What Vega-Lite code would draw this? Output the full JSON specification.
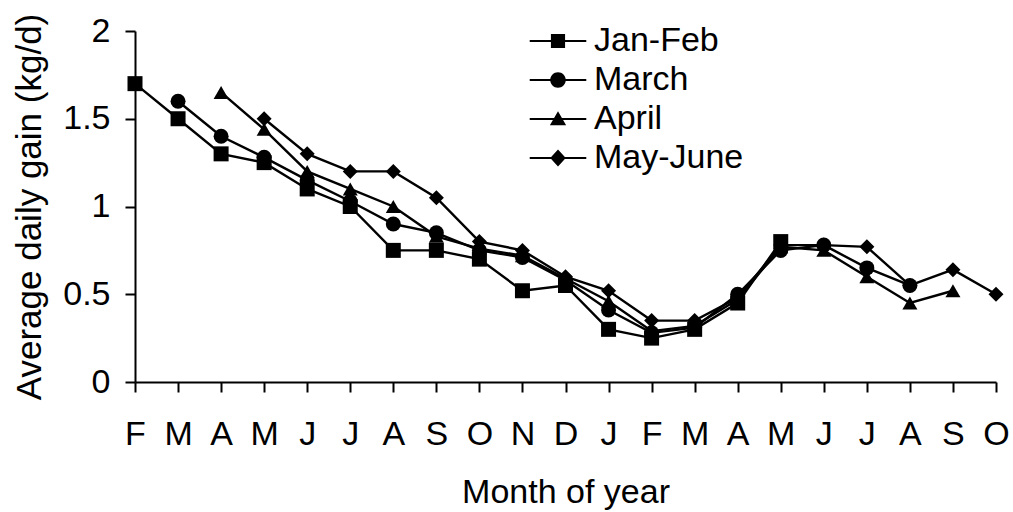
{
  "$schema": "https://vega.github.io/schema/vega-lite/v6.json",
  "autosize": "none",
  "width": 861,
  "height": 351,
  "padding": {"left": 135, "top": 31, "right": 17, "bottom": 130},
  "background": "white",
  "config": {
    "font": "Liberation Sans",
    "view": {"stroke": null},
    "axis": {"grid": false, "domainColor": "black", "domainWidth": 2, "tickColor": "black", "tickWidth": 2, "tickSize": 10, "labelColor": "black", "titleColor": "black", "labelFont": "Liberation Sans", "titleFont": "Liberation Sans", "labelFontSize": 34, "titleFontSize": 34, "titleFontWeight": "normal"}
  },
  "data": {"values": [
    {"series": "Jan-Feb", "idx": 0, "gain": 1.70},
    {"series": "Jan-Feb", "idx": 1, "gain": 1.50},
    {"series": "Jan-Feb", "idx": 2, "gain": 1.30},
    {"series": "Jan-Feb", "idx": 3, "gain": 1.25},
    {"series": "Jan-Feb", "idx": 4, "gain": 1.10},
    {"series": "Jan-Feb", "idx": 5, "gain": 1.00},
    {"series": "Jan-Feb", "idx": 6, "gain": 0.75},
    {"series": "Jan-Feb", "idx": 7, "gain": 0.75},
    {"series": "Jan-Feb", "idx": 8, "gain": 0.70},
    {"series": "Jan-Feb", "idx": 9, "gain": 0.52},
    {"series": "Jan-Feb", "idx": 10, "gain": 0.55},
    {"series": "Jan-Feb", "idx": 11, "gain": 0.30},
    {"series": "Jan-Feb", "idx": 12, "gain": 0.25},
    {"series": "Jan-Feb", "idx": 13, "gain": 0.30},
    {"series": "Jan-Feb", "idx": 14, "gain": 0.45},
    {"series": "Jan-Feb", "idx": 15, "gain": 0.80},
    {"series": "March", "idx": 1, "gain": 1.60},
    {"series": "March", "idx": 2, "gain": 1.40},
    {"series": "March", "idx": 3, "gain": 1.28},
    {"series": "March", "idx": 4, "gain": 1.15},
    {"series": "March", "idx": 5, "gain": 1.03},
    {"series": "March", "idx": 6, "gain": 0.90},
    {"series": "March", "idx": 7, "gain": 0.85},
    {"series": "March", "idx": 8, "gain": 0.75},
    {"series": "March", "idx": 9, "gain": 0.71},
    {"series": "March", "idx": 10, "gain": 0.58},
    {"series": "March", "idx": 11, "gain": 0.41},
    {"series": "March", "idx": 12, "gain": 0.28},
    {"series": "March", "idx": 13, "gain": 0.31},
    {"series": "March", "idx": 14, "gain": 0.50},
    {"series": "March", "idx": 15, "gain": 0.75},
    {"series": "March", "idx": 16, "gain": 0.78},
    {"series": "March", "idx": 17, "gain": 0.65},
    {"series": "March", "idx": 18, "gain": 0.55},
    {"series": "April", "idx": 2, "gain": 1.65},
    {"series": "April", "idx": 3, "gain": 1.44},
    {"series": "April", "idx": 4, "gain": 1.20},
    {"series": "April", "idx": 5, "gain": 1.10},
    {"series": "April", "idx": 6, "gain": 1.00},
    {"series": "April", "idx": 7, "gain": 0.83},
    {"series": "April", "idx": 8, "gain": 0.76},
    {"series": "April", "idx": 9, "gain": 0.72},
    {"series": "April", "idx": 10, "gain": 0.59},
    {"series": "April", "idx": 11, "gain": 0.46},
    {"series": "April", "idx": 12, "gain": 0.29},
    {"series": "April", "idx": 13, "gain": 0.32},
    {"series": "April", "idx": 14, "gain": 0.47},
    {"series": "April", "idx": 15, "gain": 0.77},
    {"series": "April", "idx": 16, "gain": 0.75},
    {"series": "April", "idx": 17, "gain": 0.60},
    {"series": "April", "idx": 18, "gain": 0.45},
    {"series": "April", "idx": 19, "gain": 0.52},
    {"series": "May-June", "idx": 3, "gain": 1.50},
    {"series": "May-June", "idx": 4, "gain": 1.30},
    {"series": "May-June", "idx": 5, "gain": 1.20},
    {"series": "May-June", "idx": 6, "gain": 1.20},
    {"series": "May-June", "idx": 7, "gain": 1.05},
    {"series": "May-June", "idx": 8, "gain": 0.80},
    {"series": "May-June", "idx": 9, "gain": 0.75},
    {"series": "May-June", "idx": 10, "gain": 0.60},
    {"series": "May-June", "idx": 11, "gain": 0.52},
    {"series": "May-June", "idx": 12, "gain": 0.35},
    {"series": "May-June", "idx": 13, "gain": 0.35},
    {"series": "May-June", "idx": 14, "gain": 0.48},
    {"series": "May-June", "idx": 15, "gain": 0.78},
    {"series": "May-June", "idx": 16, "gain": 0.78},
    {"series": "May-June", "idx": 17, "gain": 0.77},
    {"series": "May-June", "idx": 18, "gain": 0.55},
    {"series": "May-June", "idx": 19, "gain": 0.64},
    {"series": "May-June", "idx": 20, "gain": 0.50}
  ]},
  "encoding": {
    "x": {
      "field": "idx", "type": "quantitative",
      "scale": {"domain": [0, 20], "nice": false, "zero": false},
      "axis": {
        "title": "Month of year",
        "values": [0,1,2,3,4,5,6,7,8,9,10,11,12,13,14,15,16,17,18,19,20],
        "labelExpr": "['F','M','A','M','J','J','A','S','O','N','D','J','F','M','A','M','J','J','A','S','O'][datum.value]",
        "labelBaseline": "alphabetic",
        "labelPadding": 52,
        "labelFlush": false,
        "labelOverlap": false,
        "titleBaseline": "alphabetic",
        "titleY": 120,
        "titleX": 430.5,
        "titleAnchor": "middle"
      }
    },
    "y": {
      "field": "gain", "type": "quantitative",
      "scale": {"domain": [0, 2], "nice": false},
      "axis": {
        "title": "Average daily gain (kg/d)",
        "titleFontSize": 35,
        "values": [0, 0.5, 1, 1.5, 2],
        "format": "~g",
        "labelPadding": 15,
        "labelFlush": false,
        "titleAngle": -90,
        "titleBaseline": "alphabetic",
        "titleAlign": "center",
        "titleX": -95,
        "titleY": 175.5
      }
    }
  },
  "layer": [
    {
      "mark": {"type": "line", "color": "black", "strokeWidth": 2.4},
      "encoding": {"detail": {"field": "series"}}
    },
    {
      "transform": [{"filter": "datum.series === 'Jan-Feb'"}],
      "mark": {"type": "point", "shape": "square", "filled": true, "color": "black", "opacity": 1, "size": 225}
    },
    {
      "transform": [{"filter": "datum.series === 'March'"}],
      "mark": {"type": "point", "shape": "circle", "filled": true, "color": "black", "opacity": 1, "size": 225}
    },
    {
      "transform": [{"filter": "datum.series === 'April'"}],
      "mark": {"type": "point", "shape": "triangle-up", "filled": true, "color": "black", "opacity": 1, "size": 225}
    },
    {
      "transform": [{"filter": "datum.series === 'May-June'"}],
      "mark": {"type": "point", "shape": "diamond", "filled": true, "color": "black", "opacity": 1, "size": 225}
    },
    {
      "transform": [{"filter": "false"}],
      "mark": {"type": "point", "filled": true, "color": "black", "opacity": 1, "size": 200},
      "encoding": {
        "shape": {
          "field": "series", "type": "nominal",
          "scale": {"domain": ["Jan-Feb", "March", "April", "May-June"], "range": [
            "M-4,-0.15H4V0.15H-4ZM-1,-1H1V1H-1Z",
            "M-4,-0.15H4V0.15H-4ZM1.1,0A1.1,1.1,0,1,1,-1.1,0A1.1,1.1,0,1,1,1.1,0Z",
            "M-4,-0.15H4V0.15H-4ZM0,-1.1L1.15,0.9H-1.15Z",
            "M-4,-0.15H4V0.15H-4ZM0,-1.2L1.1,0L0,1.2L-1.1,0Z"
          ]},
          "legend": {
            "title": null,
            "orient": "none",
            "legendX": 406,
            "legendY": -7,
            "padding": 0,
            "symbolSize": 200,
            "labelFontSize": 34,
            "labelFont": "Liberation Sans",
            "labelColor": "black",
            "labelOffset": 19,
            "rowPadding": 5,
            "encode": {
              "symbols": {
                "update": {
                  "fill": {"value": "black"},
                  "opacity": {"value": 1}
                }
              }
            }
          }
        }
      }
    }
  ]
}
